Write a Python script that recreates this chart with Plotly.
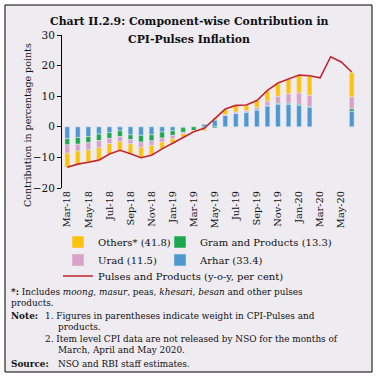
import plotly.graph_objects as go

months = ["Mar-18", "Apr-18", "May-18", "Jun-18", "Jul-18", "Aug-18", "Sep-18", "Oct-18",
          "Nov-18", "Dec-18", "Jan-19", "Feb-19", "Mar-19", "Apr-19", "May-19", "Jun-19",
          "Jul-19", "Aug-19", "Sep-19", "Oct-19", "Nov-19", "Dec-19", "Jan-20", "Feb-20",
          "Mar-20", "Apr-20", "May-20", "Jun-20"]

arhar = [-3.9, -3.5, -3.2, -2.4, -1.9, -1.3, -2.6, -2.8, -2.6, -1.7, -1.3, -0.3, 0.0, 0.8,
         2.2, 3.7, 4.4, 4.8, 5.5, 6.8, 7.4, 7.3, 7.0, 6.4, None, None, None, 5.1]
gram = [-2.0, -2.2, -2.0, -2.1, -1.9, -1.9, -1.6, -2.2, -2.0, -2.0, -1.5, -1.5, -1.2, -0.4,
        -0.4, 0.0, 0.05, 0.05, 0.1, 0.2, 0.3, 0.4, 0.4, 0.3, None, None, None, 0.8]
urad = [-2.7, -2.2, -2.4, -2.3, -1.7, -1.6, -1.4, -1.7, -1.5, -1.3, -1.1, -0.5, -0.1, -0.3,
        0.3, 0.3, 0.4, 0.4, 0.7, 1.4, 2.3, 3.1, 3.7, 3.6, None, None, None, 3.9]
others = [-4.6, -4.4, -4.0, -4.0, -3.4, -2.9, -3.2, -3.3, -3.1, -2.2, -1.4, -1.1, -0.3, -0.6,
          0.5, 1.6, 2.0, 1.7, 2.4, 3.3, 4.0, 4.7, 5.7, 6.2, None, None, None, 7.9]
pulses = [-13.2, -12.2, -11.6, -10.9, -8.9, -7.7, -8.8, -10.1, -9.3, -7.2, -5.4, -3.5, -1.6,
          -0.5, 2.7, 5.8, 7.0, 7.1, 8.6, 11.9, 14.3, 15.6, 16.9, 16.7, 16.0, 22.9, 21.2, 17.9]

tick_labels = months[::2]
y_range = [-20, 30]
y_ticks = [-20, -10, 0, 10, 20, 30]

FONT = "DejaVu Serif"
BG = "#EEEBF1"
W, H = 377, 378
ML, MR, MT, MB = 62, 20, 35, 190
PW, PH = W - ML - MR, H - MT - MB


def px_x(px):
    return (px - ML) / PW


def px_y(py):
    return (H - MB - py) / PH


fig = go.Figure()
bar_w = 0.45
fig.add_trace(go.Bar(x=months, y=arhar, name="Arhar (33.4)", marker_color="#4E97D1",
                     width=bar_w, legend="legend4"))
fig.add_trace(go.Bar(x=months, y=gram, name="Gram and Products (13.3)", marker_color="#1DA84E",
                     width=bar_w, legend="legend2"))
fig.add_trace(go.Bar(x=months, y=urad, name="Urad (11.5)", marker_color="#D9A0C9",
                     width=bar_w, legend="legend3"))
fig.add_trace(go.Bar(x=months, y=others, name="Others* (41.8)", marker_color="#FFC20E",
                     width=bar_w, legend="legend"))
fig.add_trace(go.Scatter(x=months, y=pulses, mode="lines",
                         name="Pulses and Products (y-o-y, per cent)",
                         line=dict(color="#C4262E", width=1.6), legend="legend5"))

n = len(months)
legend_common = dict(orientation="h", font=dict(family=FONT, size=10, color="#111111"),
                     bgcolor="rgba(0,0,0,0)", xanchor="left", yanchor="middle",
                     itemwidth=30)

zero_pos = (0 - y_range[0]) / (y_range[1] - y_range[0])

row1, row2, row3 = 242, 260, 276
col1, col2 = 58, 160

fig.update_layout(
    width=W, height=H, autosize=False,
    margin=dict(l=ML, r=MR, t=MT, b=MB, autoexpand=False),
    paper_bgcolor="white", plot_bgcolor="rgba(0,0,0,0)",
    barmode="relative", bargap=0.5,
    font=dict(family=FONT, size=9.5, color="#111111"),
    showlegend=True,
    legend=dict(legend_common, x=px_x(col1), y=px_y(row1)),
    legend2=dict(legend_common, x=px_x(col2), y=px_y(row1)),
    legend3=dict(legend_common, x=px_x(col1), y=px_y(row2)),
    legend4=dict(legend_common, x=px_x(col2), y=px_y(row2)),
    legend5=dict(legend_common, x=px_x(col1), y=px_y(row3)),
    xaxis=dict(type="category", range=[-0.5, n - 0.5], tickmode="array",
               tickvals=tick_labels, ticktext=tick_labels, tickangle=-90,
               showline=False, ticks="", showgrid=False, zeroline=False,
               tickfont=dict(family=FONT, size=9.8)),
    xaxis2=dict(overlaying="x", anchor="free", position=zero_pos, type="linear",
                range=[-0.5, n - 0.5], tickmode="array",
                tickvals=[i - 0.5 for i in range(0, n + 1, 2)],
                showticklabels=False, ticks="outside", ticklen=4, tickcolor="black",
                showline=True, linecolor="black", linewidth=1, showgrid=False,
                zeroline=False),
    yaxis=dict(range=y_range, tickmode="array", tickvals=y_ticks, ticks="outside",
               ticklen=4, tickcolor="black", showline=True, linecolor="black",
               linewidth=1, showgrid=False, zeroline=False,
               tickfont=dict(family=FONT, size=10.5)),
)

# Background panel with border
fig.add_shape(type="rect", xref="paper", yref="paper",
              x0=px_x(5), x1=px_x(372), y0=px_y(372), y1=px_y(5),
              fillcolor=BG, line=dict(color="black", width=1), layer="below")

ann = []
ann.append(dict(text="<b>Chart II.2.9: Component-wise Contribution in</b>",
                x=px_x(189), y=px_y(21), font=dict(size=10.9)))
ann.append(dict(text="<b>CPI-Pulses Inflation</b>", x=px_x(189), y=px_y(39),
                font=dict(size=10.9)))
ann.append(dict(text="Contribution in percentage points", x=px_x(27), y=px_y(125),
                textangle=-90, font=dict(size=9.5)))
for a in ann:
    a.update(xref="paper", yref="paper", showarrow=False, xanchor="center", yanchor="middle")

notes = [
    ("<b>*:</b> Includes <i>moong</i>, <i>masur</i>, peas, <i>khesari</i>, <i>besan</i> and other pulses", 10, 292),
    ("products.", 10, 303),
    ("<b>Note:</b>", 10, 316),
    ("1. Figures in parentheses indicate weight in CPI-Pulses and", 44, 316),
    ("products.", 57, 327),
    ("2. Item level CPI data are not released by NSO for the months of", 44, 339),
    ("March, April and May 2020.", 57, 350),
    ("<b>Source:</b>", 10, 364),
    ("NSO and RBI staff estimates.", 57, 364),
]
for text, xx, yy in notes:
    ann.append(dict(text=text, x=px_x(xx), y=px_y(yy), xref="paper", yref="paper",
                    showarrow=False, xanchor="left", yanchor="middle", borderpad=0,
                    font=dict(size=8.9, family=FONT, color="#111111")))

fig.update_layout(annotations=ann)

fig.write_html("out.html", config={"displayModeBar": False},
               post_script="document.body.style.margin='0';document.body.style.overflow='hidden';")
